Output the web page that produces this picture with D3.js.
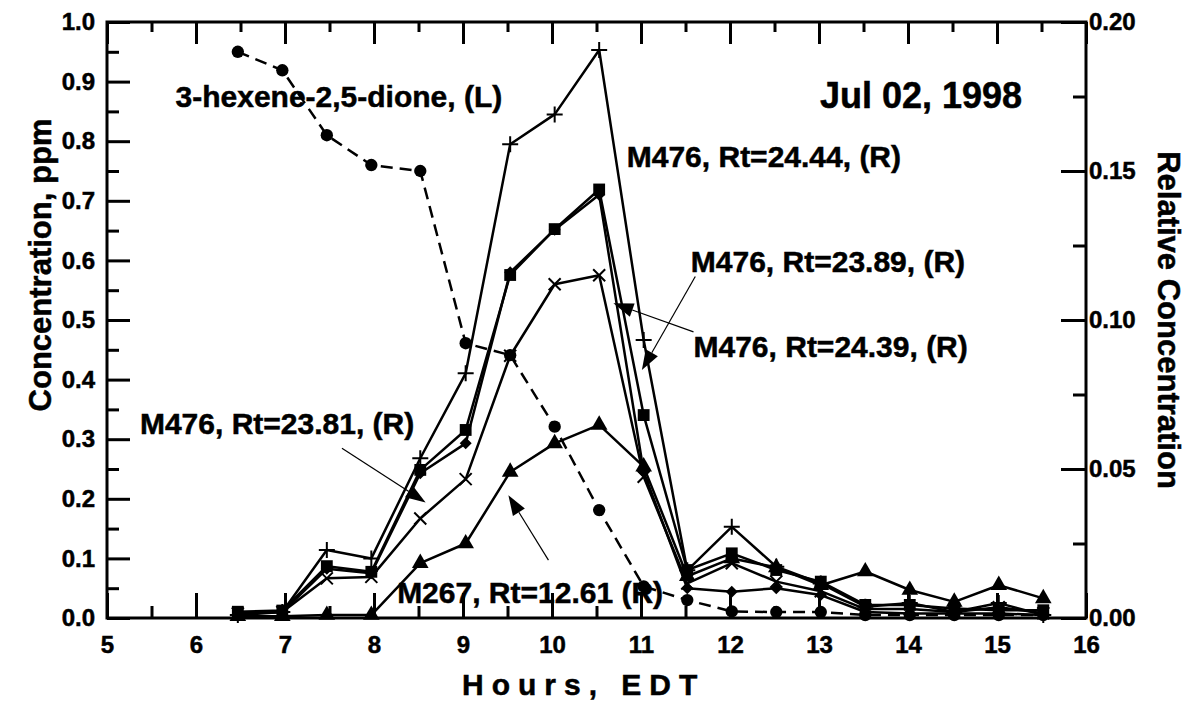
<!DOCTYPE html>
<html>
<head>
<meta charset="utf-8">
<script src="https://cdn.jsdelivr.net/npm/d3@7"></script>
<style>
  html, body { margin: 0; padding: 0; background: #fff; }
  svg { display: block; font-family: "Liberation Sans", Arial, Helvetica, sans-serif; }
  svg text { font-weight: 700; fill: #000; stroke: #000; stroke-width: 0.5px; }
</style>
</head>
<body>
<svg id="chart" width="1185" height="703"></svg>
<script>
// Sampling times (hours, EDT)
const hours = [6.47, 6.97, 7.47, 7.97, 8.52, 9.03, 9.53, 10.03, 10.53, 11.03,
               11.52, 12.02, 12.52, 13.02, 13.52, 14.02, 14.52, 15.02, 15.52];

// 3-hexene-2,5-dione, ppm (left axis)
const hexenedione = [0.950, 0.919, 0.810, 0.760, 0.750, 0.461, 0.441, 0.321, 0.181, 0.053,
                     0.030, 0.011, 0.010, 0.010, 0.005, 0.005, 0.005, 0.005, 0.005];

// Relative concentrations (right axis)
const m476_2444 = [0.0010, 0.0020, 0.0228, 0.0200, 0.0536, 0.0821, 0.1590, 0.1690, 0.1906, 0.0933,
                   0.0160, 0.0306, 0.0172, 0.0116, 0.0038, 0.0050, 0.0020, 0.0050, 0.0010];
const m476_squares = [0.0021, 0.0025, 0.0174, 0.0155, 0.0497, 0.0631, 0.1151, 0.1305, 0.1438, 0.0681,
                      0.0161, 0.0217, 0.0161, 0.0122, 0.0044, 0.0044, 0.0032, 0.0026, 0.0026];
const m476_diamonds = [0.0015, 0.0020, 0.0165, 0.0150, 0.0486, 0.0586, 0.1160, 0.1303, 0.1420, 0.0490,
                       0.0100, 0.0088, 0.0100, 0.0077, 0.0020, 0.0015, 0.0015, 0.0015, 0.0010];
const m476_crosses = [0.0015, 0.0020, 0.0133, 0.0138, 0.0334, 0.0466, 0.0880, 0.1120, 0.1150, 0.0474,
                      0.0116, 0.0184, 0.0122, 0.0090, 0.0030, 0.0030, 0.0020, 0.0036, 0.0016];
const m267_1261 = [0.0006, 0.0006, 0.0010, 0.0010, 0.0184, 0.0250, 0.0490, 0.0586, 0.0648, 0.0508,
                   0.0140, 0.0200, 0.0170, 0.0110, 0.0156, 0.0094, 0.0054, 0.0110, 0.0066];

// Axis ticks
const xMajor = [5, 6, 7, 8, 9, 10, 11, 12, 13, 14, 15, 16];
const xMinor = [5.5, 6.5, 7.5, 8.5, 9.5, 10.5, 11.5, 12.5, 13.5, 14.5, 15.5];
const yLeftMajor = [0, 0.1, 0.2, 0.3, 0.4, 0.5, 0.6, 0.7, 0.8, 0.9, 1.0];
const yLeftMinor = [0.05, 0.15, 0.25, 0.35, 0.45, 0.55, 0.65, 0.75, 0.85, 0.95];
const yRightMajor = [0, 0.05, 0.10, 0.15, 0.20];
const yRightMinor = [0.025, 0.075, 0.125, 0.175];

// Text annotations, anchored in (hours, ppm)
const notes = [
  { text: "3-hexene-2,5-dione, (L)", hour: 5.77, ppm: 0.857, size: 30 },
  { text: "Jul 02, 1998",            hour: 13.01, ppm: 0.856, size: 36 },
  { text: "M476, Rt=24.44, (R)",     hour: 10.84, ppm: 0.757, size: 30 },
  { text: "M476, Rt=23.89, (R)",     hour: 11.56, ppm: 0.581, size: 30 },
  { text: "M476, Rt=24.39, (R)",     hour: 11.59, ppm: 0.438, size: 30 },
  { text: "M476, Rt=23.81, (R)",     hour: 5.37,  ppm: 0.309, size: 30 },
  { text: "M267, Rt=12.61 (R)",      hour: 8.26,  ppm: 0.025, size: 30 }
];
// Pointer arrows, from label to curve, in (hours, ppm)
const pointers = [
  { from: [7.64, 0.285],  to: [8.58, 0.194] },
  { from: [9.96, 0.097],  to: [9.51, 0.206] },
  { from: [11.59, 0.480], to: [10.69, 0.528] },
  { from: [11.61, 0.573], to: [11.01, 0.416] }
];

const W = 1185, H = 703;
const margin = { top: 22, right: 99, bottom: 85, left: 107 };
const svg = d3.select("#chart");

const x = d3.scaleLinear().domain([5, 16]).range([margin.left, W - margin.right]);
const yL = d3.scaleLinear().domain([0, 1]).range([H - margin.bottom, margin.top]);
const yR = d3.scaleLinear().domain([0, 0.2]).range([H - margin.bottom, margin.top]);

const x0 = x.range()[0], x1 = x.range()[1];
const yb = yL.range()[0], yt = yL.range()[1];

function styleAxis(g, fontSize) {
  g.attr("font-family", null).attr("font-size", fontSize);
  g.select(".domain").remove();
  g.selectAll(".tick line").attr("stroke", "#000").attr("stroke-width", 3);
}

// bottom axis
svg.append("g").attr("transform", `translate(0,${yb})`)
  .call(d3.axisBottom(x).tickValues(xMajor).tickSize(-25).tickSizeOuter(0).tickPadding(18).tickFormat(d3.format("d")))
  .call(g => styleAxis(g, 24));
svg.append("g").attr("transform", `translate(0,${yb})`)
  .call(d3.axisBottom(x).tickValues(xMinor).tickSize(-12).tickSizeOuter(0).tickFormat(""))
  .call(g => styleAxis(g, 24));
// top axis
svg.append("g").attr("transform", `translate(0,${yt})`)
  .call(d3.axisTop(x).tickValues(xMajor).tickSize(-22).tickSizeOuter(0).tickFormat(""))
  .call(g => styleAxis(g, 24));
svg.append("g").attr("transform", `translate(0,${yt})`)
  .call(d3.axisTop(x).tickValues(xMinor).tickSize(-10).tickSizeOuter(0).tickFormat(""))
  .call(g => styleAxis(g, 24));
// left axis
svg.append("g").attr("transform", `translate(${x0},0)`)
  .call(d3.axisLeft(yL).tickValues(yLeftMajor).tickSize(-23).tickSizeOuter(0).tickPadding(12).tickFormat(d3.format(".1f")))
  .call(g => styleAxis(g, 24));
svg.append("g").attr("transform", `translate(${x0},0)`)
  .call(d3.axisLeft(yL).tickValues(yLeftMinor).tickSize(-12).tickSizeOuter(0).tickFormat(""))
  .call(g => styleAxis(g, 24));
// right axis
svg.append("g").attr("transform", `translate(${x1},0)`)
  .call(d3.axisRight(yR).tickValues(yRightMajor).tickSize(-25).tickSizeOuter(0).tickPadding(3).tickFormat(d3.format(".2f")))
  .call(g => styleAxis(g, 24));
svg.append("g").attr("transform", `translate(${x1},0)`)
  .call(d3.axisRight(yR).tickValues(yRightMinor).tickSize(-13).tickSizeOuter(0).tickFormat(""))
  .call(g => styleAxis(g, 24));

// frame
svg.append("rect")
  .attr("x", x0).attr("y", yt).attr("width", x1 - x0).attr("height", yb - yt)
  .attr("fill", "none").attr("stroke", "#000").attr("stroke-width", 3);

// axis titles
svg.append("text")
  .attr("transform", `translate(51,${(yt + yb) / 2 - 55}) rotate(-90)`)
  .attr("text-anchor", "middle").attr("font-size", 31).text("Concentration, ppm");
svg.append("text")
  .attr("transform", `translate(1158,${(yt + yb) / 2}) rotate(90)`)
  .attr("text-anchor", "middle").attr("font-size", 31).text("Relative Concentration");
svg.append("text")
  .attr("x", 462).attr("y", 695).attr("font-size", 30).attr("letter-spacing", 8)
  .text("Hours, EDT");

// series
const seriesR = [
  { values: m476_2444,     marker: "plus" },
  { values: m476_squares,  marker: "square" },
  { values: m476_diamonds, marker: "diamond" },
  { values: m476_crosses,  marker: "x" },
  { values: m267_1261,     marker: "triangle" }
];

const lineR = d3.line().x((d, i) => x(hours[i])).y(d => yR(d));
const lineL = d3.line().x((d, i) => x(hours[i])).y(d => yL(d));

const plot = svg.append("g");

seriesR.forEach(s => {
  plot.append("path").datum(s.values)
    .attr("d", lineR).attr("fill", "none").attr("stroke", "#000")
    .attr("stroke-width", 2.5).attr("stroke-linejoin", "round");
});
plot.append("path").datum(hexenedione)
  .attr("d", lineL).attr("fill", "none").attr("stroke", "#000")
  .attr("stroke-width", 2.5).attr("stroke-dasharray", "12,7");

function drawMarkers(values, yScale, kind) {
  const g = plot.append("g");
  const pts = values.map((v, i) => [x(hours[i]), yScale(v)]);
  if (kind === "plus") {
    g.selectAll("path").data(pts).join("path")
      .attr("d", p => `M${p[0] - 8},${p[1]}H${p[0] + 8}M${p[0]},${p[1] - 8}V${p[1] + 8}`)
      .attr("stroke", "#000").attr("stroke-width", 2).attr("fill", "none");
  } else if (kind === "x") {
    g.selectAll("path").data(pts).join("path")
      .attr("d", p => `M${p[0] - 6},${p[1] - 6}L${p[0] + 6},${p[1] + 6}M${p[0] - 6},${p[1] + 6}L${p[0] + 6},${p[1] - 6}`)
      .attr("stroke", "#000").attr("stroke-width", 2).attr("fill", "none");
  } else {
    const type = { square: d3.symbolSquare, diamond: d3.symbolSquare, triangle: d3.symbolTriangle, circle: d3.symbolCircle }[kind];
    const size = { square: 140, diamond: 72, triangle: 120, circle: 120 }[kind];
    const rot = kind === "diamond" ? 45 : 0;
    g.selectAll("path").data(pts).join("path")
      .attr("d", d3.symbol().type(type).size(size))
      .attr("transform", p => `translate(${p[0]},${p[1]}) rotate(${rot})`)
      .attr("fill", "#000");
  }
}

seriesR.forEach(s => drawMarkers(s.values, yR, s.marker));
drawMarkers(hexenedione, yL, "circle");

// annotations
notes.forEach(n => {
  svg.append("text").attr("x", x(n.hour)).attr("y", yL(n.ppm))
    .attr("font-size", n.size).text(n.text);
});

pointers.forEach(p => {
  const ax = x(p.from[0]), ay = yL(p.from[1]);
  const bx = x(p.to[0]), by = yL(p.to[1]);
  const len = Math.hypot(bx - ax, by - ay);
  const ux = (bx - ax) / len, uy = (by - ay) / len;
  const hl = 20, hw = 7;
  const cx = bx - ux * hl, cy = by - uy * hl;
  svg.append("line").attr("x1", ax).attr("y1", ay).attr("x2", cx).attr("y2", cy)
    .attr("stroke", "#000").attr("stroke-width", 1.2);
  svg.append("path")
    .attr("d", `M${bx},${by}L${cx - uy * hw},${cy + ux * hw}L${cx + uy * hw},${cy - ux * hw}Z`)
    .attr("fill", "#000");
});
</script>
</body>
</html>
